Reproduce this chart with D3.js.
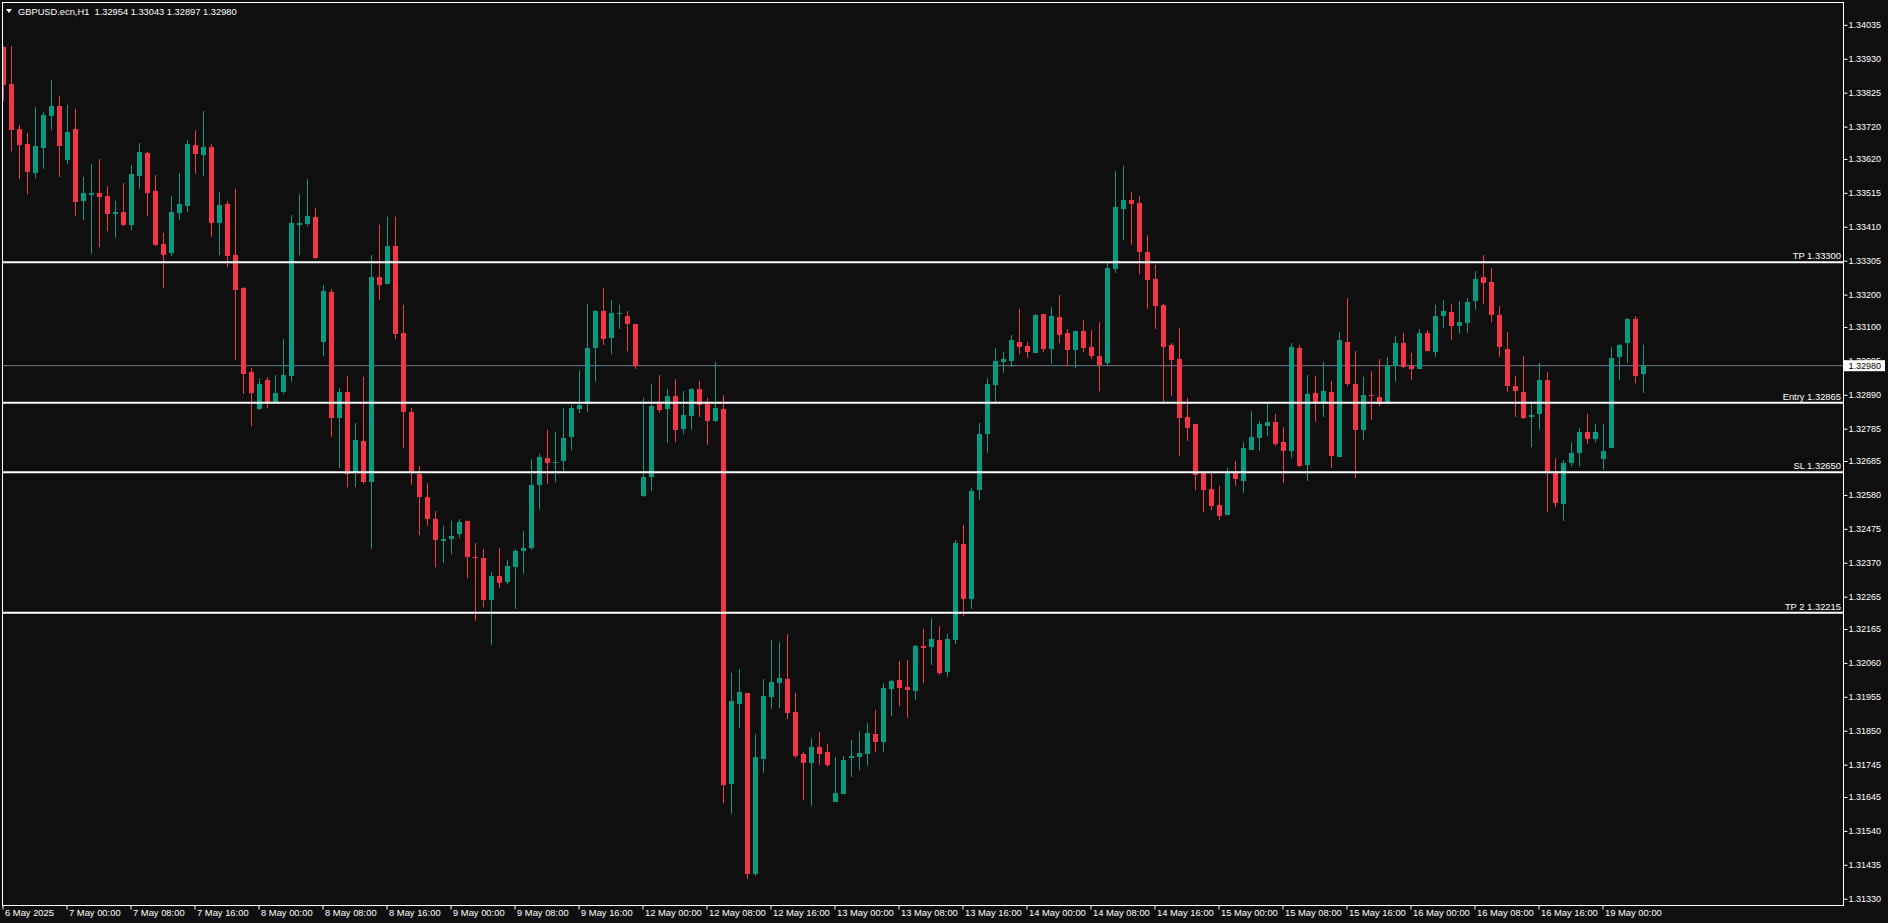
<!DOCTYPE html>
<html><head><meta charset="utf-8">
<script src="https://cdn.jsdelivr.net/npm/d3@7"></script>
<style>
html,body{margin:0;padding:0;background:#0f0f0f;overflow:hidden}
svg{display:block}
text{font-family:"Liberation Sans",Arial,sans-serif}
</style></head><body>
<svg id="c" width="1888" height="923"></svg>
<script>
const symbol = "GBPUSD.ecn,H1";
const openP = [
1.33965,1.33852,1.33712,1.33666,1.33578,1.33655,1.33754,1.33784,1.33617,1.33712,
1.33490,1.33509,1.33514,1.33504,1.33451,1.33455,1.33416,1.33568,1.33638,1.33521,
1.33356,1.33328,1.33453,1.33475,1.33663,1.33633,1.33657,1.33423,1.33480,1.33322,
1.33219,1.32962,1.32845,1.32937,1.32866,1.32899,1.32948,1.33416,1.33419,1.33440,
1.33052,1.33209,1.32817,1.32900,1.32650,1.32748,1.32619,1.33256,1.33232,1.33352,
1.33082,1.32838,1.32646,1.32575,1.32507,1.32436,1.32443,1.32458,1.32500,1.32389,
1.32386,1.32254,1.32330,1.32309,1.32356,1.32405,1.32415,1.32610,1.32695,1.32678,
1.32684,1.32758,1.32845,1.32864,1.33034,1.33150,1.33065,1.33142,1.33135,1.33110,
1.32578,1.32634,1.32860,1.32846,1.32886,1.32784,1.32825,1.32908,1.32862,1.32809,
1.32846,1.31685,1.31932,1.31967,1.31406,1.31762,1.31954,1.31998,1.32010,1.31908,
1.31778,1.31751,1.31799,1.31784,1.31629,1.31654,1.31765,1.31768,1.31778,1.31840,
1.31815,1.31979,1.32007,1.31985,1.31973,1.32112,1.32110,1.32131,1.32032,1.32131,
1.32428,1.32258,1.32594,1.32768,1.32919,1.32990,1.32994,1.33052,1.33040,1.33018,
1.33139,1.33031,1.33130,1.33080,1.33028,1.33086,1.33037,1.33009,1.32987,1.33278,
1.33464,1.33492,1.33483,1.33331,1.33247,1.33167,1.33043,1.33000,1.32820,1.32799,
1.32647,1.32597,1.32548,1.32517,1.32647,1.32622,1.32718,1.32755,1.32792,1.32805,
1.32743,1.32715,1.33034,1.32672,1.32895,1.32867,1.32900,1.32696,1.33054,1.32924,
1.32780,1.32890,1.32884,1.32864,1.32980,1.33051,1.32980,1.32969,1.33082,1.33021,
1.33133,1.33147,1.33102,1.33111,1.33179,1.33253,1.33240,1.33138,1.33033,1.32918,
1.32900,1.32820,1.32830,1.32937,1.32650,1.32551,1.32678,1.32709,1.32776,1.32752,
1.32690,1.32724,1.33006,1.33049,1.33126,1.32954];
const highP = [
1.33970,1.33971,1.33725,1.33700,1.33781,1.33766,1.33865,1.33815,1.33787,1.33775,
1.33564,1.33603,1.33620,1.33536,1.33489,1.33545,1.33601,1.33669,1.33640,1.33570,
1.33390,1.33504,1.33577,1.33678,1.33710,1.33768,1.33666,1.33517,1.33489,1.33526,
1.33225,1.32974,1.32942,1.32946,1.32951,1.33064,1.33446,1.33511,1.33558,1.33468,
1.33231,1.33218,1.32912,1.32949,1.32804,1.32946,1.33324,1.33417,1.33441,1.33441,
1.33169,1.32850,1.32668,1.32618,1.32531,1.32485,1.32500,1.32507,1.32500,1.32430,
1.32414,1.32342,1.32417,1.32380,1.32414,1.32469,1.32692,1.32708,1.32782,1.32776,
1.32850,1.32857,1.32968,1.33172,1.33152,1.33222,1.33184,1.33169,1.33150,1.33110,
1.32881,1.32924,1.32952,1.32908,1.32939,1.32902,1.32911,1.32933,1.32880,1.32992,
1.32889,1.32028,1.32041,1.31967,1.31840,1.32010,1.32131,1.32124,1.32150,1.31967,
1.31784,1.31828,1.31846,1.31809,1.31768,1.31772,1.31821,1.31849,1.31874,1.31914,
1.31998,1.32006,1.32066,1.32068,1.32115,1.32165,1.32199,1.32174,1.32150,1.32440,
1.32487,1.32602,1.32802,1.32941,1.33034,1.33021,1.33074,1.33155,1.33052,1.33139,
1.33139,1.33161,1.33198,1.33093,1.33086,1.33120,1.33090,1.33114,1.33297,1.33582,
1.33597,1.33517,1.33504,1.33384,1.33291,1.33170,1.33049,1.33096,1.32879,1.32799,
1.32647,1.32647,1.32607,1.32662,1.32684,1.32743,1.32839,1.32808,1.32864,1.32830,
1.32789,1.33049,1.33043,1.32950,1.32947,1.32990,1.32934,1.33085,1.33191,1.33027,
1.32946,1.32965,1.33002,1.33008,1.33073,1.33082,1.33020,1.33095,1.33092,1.33169,
1.33184,1.33172,1.33181,1.33191,1.33274,1.33324,1.33283,1.33166,1.33085,1.32949,
1.33011,1.32872,1.32989,1.32962,1.32695,1.32689,1.32745,1.32788,1.32832,1.32798,
1.32801,1.33039,1.33048,1.33129,1.33135,1.33043];
const lowP = [
1.33798,1.33644,1.33559,1.33512,1.33561,1.33589,1.33711,1.33565,1.33605,1.33444,
1.33432,1.33326,1.33348,1.33397,1.33376,1.33411,1.33400,1.33528,1.33444,1.33350,
1.33221,1.33320,1.33432,1.33456,1.33574,1.33568,1.33378,1.33323,1.33286,1.32998,
1.32892,1.32792,1.32843,1.32848,1.32864,1.32892,1.32929,1.33323,1.33413,1.33310,
1.33009,1.32760,1.32662,1.32604,1.32604,1.32613,1.32412,1.33182,1.33232,1.33062,
1.32724,1.32610,1.32455,1.32483,1.32356,1.32368,1.32396,1.32446,1.32322,1.32189,
1.32232,1.32114,1.32291,1.32303,1.32226,1.32334,1.32409,1.32532,1.32613,1.32619,
1.32653,1.32718,1.32833,1.32836,1.32929,1.33043,1.33015,1.33093,1.33025,1.32969,
1.32573,1.32591,1.32833,1.32741,1.32744,1.32770,1.32782,1.32820,1.32735,1.32806,
1.31626,1.31592,1.31859,1.31392,1.31401,1.31719,1.31918,1.31922,1.31885,1.31765,
1.31636,1.31618,1.31744,1.31738,1.31629,1.31654,1.31707,1.31728,1.31741,1.31784,
1.31784,1.31895,1.31927,1.31890,1.31945,1.31998,1.32055,1.32022,1.32017,1.32118,
1.32205,1.32227,1.32563,1.32709,1.32865,1.32956,1.32975,1.33015,1.33003,1.33018,
1.33021,1.32984,1.33049,1.32978,1.32972,1.33021,1.33000,1.32901,1.32978,1.33266,
1.33368,1.33353,1.33263,1.33155,1.33093,1.32867,1.32885,1.32699,1.32746,1.32594,
1.32526,1.32532,1.32501,1.32517,1.32607,1.32585,1.32718,1.32715,1.32761,1.32730,
1.32616,1.32693,1.32665,1.32622,1.32805,1.32820,1.32662,1.32696,1.32916,1.32631,
1.32749,1.32811,1.32856,1.32860,1.32929,1.32974,1.32937,1.32969,1.33025,1.33006,
1.33096,1.33059,1.33077,1.33080,1.33151,1.33170,1.33114,1.33006,1.32898,1.32820,
1.32814,1.32727,1.32780,1.32526,1.32542,1.32498,1.32669,1.32669,1.32737,1.32743,
1.32656,1.32724,1.32935,1.32987,1.32925,1.32897];
const closeP = [
1.33850,1.33711,1.33664,1.33580,1.33659,1.33756,1.33784,1.33661,1.33703,1.33487,
1.33514,1.33514,1.33502,1.33451,1.33455,1.33416,1.33573,1.33641,1.33515,1.33353,
1.33323,1.33455,1.33480,1.33666,1.33636,1.33657,1.33423,1.33476,1.33320,1.33215,
1.32953,1.32895,1.32924,1.32866,1.32897,1.32952,1.33421,1.33421,1.33442,1.33314,
1.33212,1.32817,1.32900,1.32644,1.32751,1.32619,1.33256,1.33229,1.33352,1.33077,
1.32836,1.32650,1.32573,1.32504,1.32439,1.32445,1.32454,1.32497,1.32387,1.32384,
1.32254,1.32330,1.32306,1.32361,1.32407,1.32417,1.32612,1.32698,1.32678,1.32683,
1.32757,1.32850,1.32859,1.33036,1.33150,1.33062,1.33144,1.33144,1.33108,1.32979,
1.32637,1.32856,1.32843,1.32886,1.32782,1.32827,1.32908,1.32857,1.32809,1.32849,
1.31682,1.31942,1.31970,1.31406,1.31768,1.31958,1.32001,1.32014,1.31906,1.31772,
1.31751,1.31799,1.31778,1.31744,1.31658,1.31759,1.31772,1.31781,1.31842,1.31815,
1.31982,1.32004,1.31982,1.31977,1.32112,1.32107,1.32134,1.32028,1.32134,1.32431,
1.32258,1.32592,1.32768,1.32922,1.32994,1.33000,1.33059,1.33037,1.33021,1.33136,
1.33031,1.33133,1.33074,1.33028,1.33086,1.33034,1.33009,1.32981,1.33281,1.33470,
1.33492,1.33480,1.33331,1.33244,1.33164,1.33037,1.32997,1.32817,1.32786,1.32641,
1.32594,1.32545,1.32514,1.32647,1.32628,1.32724,1.32758,1.32799,1.32805,1.32737,
1.32715,1.33037,1.32669,1.32891,1.32867,1.32901,1.32699,1.33061,1.32922,1.32780,
1.32890,1.32885,1.32861,1.32980,1.33051,1.32977,1.32969,1.33082,1.33025,1.33135,
1.33150,1.33102,1.33116,1.33178,1.33249,1.33235,1.33136,1.33037,1.32916,1.32901,
1.32817,1.32828,1.32937,1.32650,1.32554,1.32680,1.32711,1.32776,1.32752,1.32776,
1.32717,1.33005,1.33045,1.33123,1.32947,1.32980];
const xTickIdx = [0,8,16,24,32,40,48,56,64,72,80,88,96,104,112,120,128,136,144,152,160,168,176,184,192,200];
const xTickLabels = ["6 May 2025","7 May 00:00","7 May 08:00","7 May 16:00","8 May 00:00","8 May 08:00","8 May 16:00","9 May 00:00","9 May 08:00","9 May 16:00","12 May 00:00","12 May 08:00","12 May 16:00","13 May 00:00","13 May 08:00","13 May 16:00","14 May 00:00","14 May 08:00","14 May 16:00","15 May 00:00","15 May 08:00","15 May 16:00","16 May 00:00","16 May 08:00","16 May 16:00","19 May 00:00"];
const yTickLabels = ["1.34035","1.33930","1.33825","1.33720","1.33620","1.33515","1.33410","1.33305","1.33200","1.33100","1.32995","1.32890","1.32785","1.32685","1.32580","1.32475","1.32370","1.32265","1.32165","1.32060","1.31955","1.31850","1.31745","1.31645","1.31540","1.31435","1.31330"];
const levelLabels = ["TP 1.33300","Entry 1.32865","SL 1.32650","TP 2 1.32215"];
const levelPrices = [1.33300,1.32865,1.32650,1.32215];
const lastPrice = 1.32980;

const UP = "#089981", DOWN = "#f23645", FG = "#ffffff";
const plotL = 2.5, plotR = 1843.5, plotT = 2.5, plotB = 905.5;
const n = openP.length;
const x = d3.scaleLinear().domain([0, n - 1]).range([3.5, 3.5 + 8 * (n - 1)]);
const y = d3.scaleLinear().domain([1.34035, 1.31330]).range([24.86, 898.76]);

const svg = d3.select("#c");
svg.append("rect").attr("width", 1888).attr("height", 923).attr("fill", "#0f0f0f");
svg.append("clipPath").attr("id", "pc").append("rect")
  .attr("x", plotL + 0.5).attr("y", plotT + 0.5)
  .attr("width", plotR - plotL - 1).attr("height", plotB - plotT - 1);

const plot = svg.append("g").attr("clip-path", "url(#pc)");

// current price line
plot.append("line").attr("x1", plotL).attr("x2", plotR)
  .attr("y1", y(lastPrice)).attr("y2", y(lastPrice))
  .attr("stroke", "#6f7f8f").attr("stroke-width", 1);

// candles
const idx = d3.range(n);
const cg = plot.append("g").attr("shape-rendering", "crispEdges");
cg.selectAll("line.w").data(idx).join("line").attr("class", "w")
  .attr("x1", i => x(i)).attr("x2", i => x(i))
  .attr("y1", i => y(highP[i])).attr("y2", i => y(lowP[i]))
  .attr("stroke", i => closeP[i] >= openP[i] ? UP : DOWN).attr("stroke-width", 1);
cg.selectAll("rect.b").data(idx).join("rect").attr("class", "b")
  .attr("x", i => x(i) - 2.5).attr("width", 5)
  .attr("y", i => y(Math.max(openP[i], closeP[i])))
  .attr("height", i => Math.max(1, Math.abs(y(openP[i]) - y(closeP[i]))))
  .attr("fill", i => closeP[i] >= openP[i] ? UP : DOWN);

// level lines
const lg = plot.append("g");
lg.selectAll("line").data(levelPrices).join("line")
  .attr("x1", plotL).attr("x2", plotR)
  .attr("y1", d => y(d)).attr("y2", d => y(d))
  .attr("stroke", FG).attr("stroke-width", 2);
lg.selectAll("text").data(levelPrices).join("text")
  .attr("x", plotR - 2.5).attr("y", d => y(d) - 3)
  .attr("text-anchor", "end").attr("fill", FG).attr("font-size", "9.4px")
  .text((d, i) => levelLabels[i]);

// frame
svg.append("rect").attr("x", plotL).attr("y", plotT)
  .attr("width", plotR - plotL).attr("height", plotB - plotT)
  .attr("fill", "none").attr("stroke", FG).attr("stroke-width", 1);

// y axis
const yAxis = d3.axisRight(y).tickValues(yTickLabels.map(Number))
  .tickFormat((d, i) => yTickLabels[i]).tickSize(4).tickPadding(1);
const ya = svg.append("g").attr("transform", `translate(${plotR},0)`).call(yAxis);
ya.select(".domain").remove();
ya.selectAll("line").attr("stroke", FG);
ya.selectAll("text").attr("fill", FG).attr("font-size", "9px")
  .attr("font-family", "'Liberation Sans',Arial,sans-serif");

// current price box
const py = y(lastPrice);
svg.append("rect").attr("x", plotR + 0.5).attr("y", py - 5.5).attr("width", 41).attr("height", 11).attr("fill", "#ffffff");
svg.append("text").attr("x", plotR + 5).attr("y", py + 3.3).attr("fill", "#000000")
  .attr("font-size", "9px").text(d3.format(".5f")(lastPrice));

// x axis
const xAxis = d3.axisBottom(x).tickValues(xTickIdx)
  .tickFormat((d, i) => xTickLabels[i]).tickSize(4).tickPadding(0);
const xa = svg.append("g").attr("transform", `translate(-1,${plotB})`).call(xAxis);
xa.select(".domain").remove();
xa.selectAll("line").attr("stroke", FG);
xa.selectAll("text").attr("fill", FG).attr("font-size", "9.4px")
  .attr("text-anchor", "start").attr("x", 2)
  .attr("font-family", "'Liberation Sans',Arial,sans-serif");

// title
const last = n - 1;
svg.append("path").attr("d", "M6,9L12,9L9,13Z").attr("fill", FG);
svg.append("text").attr("x", 18).attr("y", 14.5).attr("fill", FG).attr("font-size", "9.3px")
  .attr("xml:space", "preserve")
  .text(symbol + "  " + [openP[last], highP[last], lowP[last], closeP[last]].map(d3.format(".5f")).join(" "));
</script>
</body></html>
